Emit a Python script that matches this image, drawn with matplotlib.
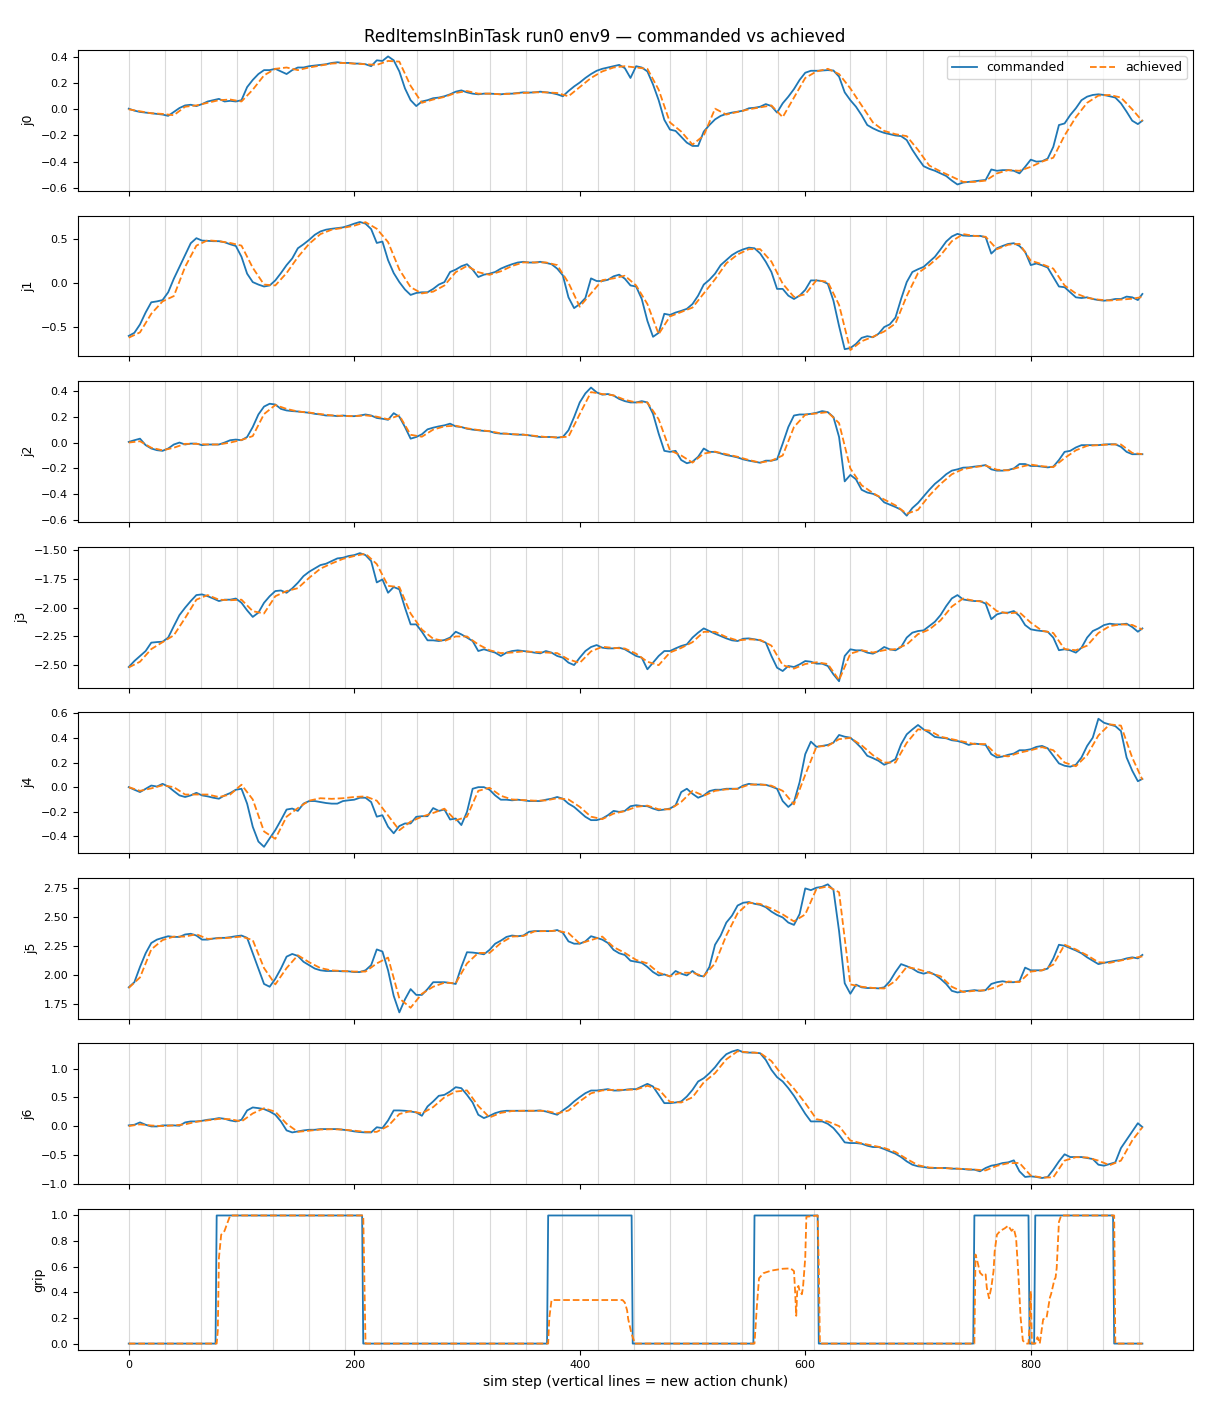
import numpy as np
import matplotlib
matplotlib.use("Agg")
import matplotlib.pyplot as plt
from matplotlib.ticker import MultipleLocator

# ---------------- data ----------------
# commanded joints sampled every 5 sim steps (0..895) plus final step 899
cmd_steps = list(range(0, 900, 5)) + [899]
# achieved joints sampled every 10 sim steps (0..890) plus final step 899
ach_steps = list(range(0, 900, 10)) + [899]

j0_cmd = [0.005, -0.01, -0.02, -0.025, -0.03, -0.035, -0.04, -0.05, -0.02, 0.01,
          0.03, 0.035, 0.025, 0.04, 0.06, 0.07, 0.08, 0.06, 0.065, 0.06,
          0.07, 0.17, 0.225, 0.27, 0.30, 0.30, 0.31, 0.29, 0.27, 0.30,
          0.32, 0.32, 0.33, 0.335, 0.34, 0.345, 0.355, 0.36, 0.355, 0.355,
          0.35, 0.35, 0.345, 0.33, 0.375, 0.37, 0.405, 0.375, 0.29, 0.16,
          0.07, 0.025, 0.06, 0.07, 0.085, 0.09, 0.10, 0.115, 0.135, 0.145,
          0.13, 0.12, 0.115, 0.12, 0.12, 0.118, 0.115, 0.12, 0.12, 0.125,
          0.13, 0.128, 0.13, 0.135, 0.13, 0.125, 0.115, 0.10, 0.14, 0.175,
          0.205, 0.24, 0.27, 0.295, 0.31, 0.32, 0.33, 0.34, 0.315, 0.24,
          0.33, 0.32, 0.29, 0.19, 0.07, -0.08, -0.155, -0.165, -0.21, -0.255,
          -0.28, -0.28, -0.17, -0.12, -0.077, -0.05, -0.035, -0.025, -0.018, -0.01,
          0.008, 0.012, 0.02, 0.04, 0.025, -0.025, 0.046, 0.097, 0.155, 0.225,
          0.28, 0.295, 0.295, 0.297, 0.30, 0.297, 0.25, 0.13, 0.07, 0.02,
          -0.045, -0.12, -0.145, -0.165, -0.18, -0.19, -0.20, -0.205, -0.235, -0.31,
          -0.375, -0.435, -0.455, -0.47, -0.49, -0.51, -0.545, -0.575, -0.56, -0.555,
          -0.55, -0.545, -0.54, -0.46, -0.47, -0.465, -0.465, -0.47, -0.49, -0.44,
          -0.385, -0.40, -0.397, -0.377, -0.287, -0.12, -0.108, -0.044, 0.008, 0.07,
          0.097, 0.11, 0.115, 0.11, 0.10, 0.09, 0.046, -0.018, -0.087, -0.113,
          -0.087]
j0_ach = [0.0, -0.015, -0.03, -0.035, -0.045, 0.02, 0.03, 0.05, 0.07, 0.075,
          0.06, 0.15, 0.26, 0.31, 0.32, 0.30, 0.32, 0.335, 0.35, 0.355,
          0.35, 0.345, 0.34, 0.37, 0.365, 0.18, 0.05, 0.075, 0.095, 0.125,
          0.14, 0.12, 0.12, 0.115, 0.12, 0.125, 0.13, 0.13, 0.125, 0.10,
          0.17, 0.24, 0.29, 0.32, 0.33, 0.32, 0.31, 0.15, -0.10, -0.17,
          -0.27, -0.2, 0.005, -0.04, -0.02, 0.0, 0.015, 0.03, -0.06, 0.09,
          0.24, 0.29, 0.31, 0.27, 0.16, 0.03, -0.1, -0.165, -0.19, -0.205,
          -0.31, -0.43, -0.475, -0.515, -0.555, -0.555, -0.545, -0.49, -0.465, -0.47,
          -0.44, -0.40, -0.37, -0.20, -0.06, 0.05, 0.105, 0.11, 0.09, 0.0,
          -0.09]

j1_cmd = [-0.60, -0.565, -0.47, -0.335, -0.22, -0.21, -0.195, -0.107, 0.046, 0.18,
          0.313, 0.447, 0.504, 0.477, 0.473, 0.47, 0.47, 0.458, 0.435, 0.416,
          0.294, 0.103, 0.008, -0.02, -0.042, -0.03, 0.027, 0.11, 0.2, 0.275,
          0.39, 0.435, 0.485, 0.542, 0.58, 0.6, 0.61, 0.618, 0.626, 0.645,
          0.668, 0.687, 0.668, 0.607, 0.45, 0.466, 0.256, 0.11, 0.008, -0.076,
          -0.137, -0.115, -0.107, -0.107, -0.069, -0.02, 0.008, 0.122, 0.149, 0.187,
          0.21, 0.149, 0.065, 0.092, 0.103, 0.122, 0.16, 0.187, 0.21, 0.229,
          0.237, 0.229, 0.229, 0.237, 0.225, 0.21, 0.16, 0.084, -0.164, -0.286,
          -0.24, -0.172, 0.05, 0.02, 0.02, 0.034, 0.073, 0.092, 0.046, -0.03,
          -0.042, -0.183, -0.43, -0.61, -0.565, -0.35, -0.363, -0.336, -0.317, -0.294,
          -0.24, -0.145, -0.02, 0.034, 0.103, 0.2, 0.256, 0.313, 0.351, 0.378,
          0.397, 0.39, 0.332, 0.237, 0.122, -0.069, -0.069, -0.145, -0.183, -0.145,
          -0.08, 0.027, 0.027, 0.019, -0.011, -0.202, -0.489, -0.75, -0.737, -0.69,
          -0.622, -0.603, -0.615, -0.576, -0.5, -0.469, -0.393, -0.183, 0.008, 0.122,
          0.153, 0.18, 0.237, 0.294, 0.378, 0.466, 0.523, 0.553, 0.534, 0.53,
          0.53, 0.53, 0.515, 0.33, 0.39, 0.416, 0.439, 0.447, 0.416, 0.351,
          0.2, 0.218, 0.198, 0.172, 0.065, -0.042, -0.05, -0.107, -0.164, -0.172,
          -0.164, -0.183, -0.195, -0.202, -0.195, -0.183, -0.183, -0.156, -0.164, -0.195,
          -0.126]
j1_ach = [-0.62, -0.56, -0.35, -0.21, -0.15, 0.18, 0.42, 0.48, 0.47, 0.45,
          0.42, 0.17, -0.02, -0.03, 0.11, 0.29, 0.44, 0.55, 0.6, 0.62,
          0.645, 0.685, 0.61, 0.46, 0.15, -0.05, -0.12, -0.1, -0.03, 0.12,
          0.19, 0.12, 0.09, 0.13, 0.19, 0.23, 0.23, 0.23, 0.2, 0.0,
          -0.27, -0.12, 0.03, 0.05, 0.08, -0.03, -0.24, -0.58, -0.38, -0.33,
          -0.28, -0.12, 0.04, 0.22, 0.32, 0.38, 0.38, 0.24, -0.01, -0.16,
          -0.13, 0.03, 0.01, -0.25, -0.76, -0.66, -0.61, -0.55, -0.46, -0.15,
          0.11, 0.2, 0.31, 0.47, 0.55, 0.53, 0.52, 0.38, 0.43, 0.44,
          0.25, 0.21, 0.16, -0.03, -0.12, -0.17, -0.19, -0.2, -0.19, -0.18,
          -0.16]

j2_cmd = [0.005, 0.018, 0.03, -0.02, -0.046, -0.059, -0.064, -0.046, -0.015, 0.0,
          -0.015, -0.008, -0.008, -0.02, -0.015, -0.015, -0.015, 0.0, 0.018, 0.023,
          0.018, 0.043, 0.12, 0.217, 0.278, 0.3, 0.294, 0.26, 0.248, 0.243,
          0.24, 0.235, 0.23, 0.222, 0.217, 0.209, 0.209, 0.204, 0.209, 0.204,
          0.204, 0.209, 0.217, 0.209, 0.19, 0.184, 0.176, 0.227, 0.2, 0.12,
          0.03, 0.043, 0.064, 0.102, 0.115, 0.125, 0.133, 0.146, 0.125, 0.12,
          0.107, 0.1, 0.095, 0.09, 0.087, 0.074, 0.069, 0.069, 0.064, 0.061,
          0.061, 0.056, 0.049, 0.043, 0.043, 0.043, 0.038, 0.043, 0.095, 0.197,
          0.31, 0.38, 0.425, 0.388, 0.37, 0.375, 0.363, 0.337, 0.32, 0.31,
          0.31, 0.32, 0.31, 0.222, 0.069, -0.064, -0.072, -0.064, -0.135, -0.16,
          -0.148, -0.11, -0.046, -0.072, -0.072, -0.084, -0.097, -0.105, -0.115, -0.13,
          -0.14, -0.148, -0.156, -0.14, -0.14, -0.13, -0.008, 0.12, 0.209, 0.217,
          0.217, 0.222, 0.23, 0.243, 0.235, 0.197, 0.043, -0.30, -0.25, -0.284,
          -0.365, -0.386, -0.396, -0.416, -0.462, -0.48, -0.498, -0.519, -0.565, -0.506,
          -0.467, -0.416, -0.365, -0.319, -0.284, -0.245, -0.217, -0.207, -0.194, -0.192,
          -0.186, -0.181, -0.174, -0.207, -0.217, -0.217, -0.212, -0.2, -0.166, -0.166,
          -0.181, -0.181, -0.186, -0.192, -0.186, -0.135, -0.072, -0.064, -0.038, -0.02,
          -0.02, -0.02, -0.02, -0.015, -0.013, -0.013, -0.033, -0.072, -0.09, -0.09,
          -0.09]
j2_ach = [0.0, 0.01, -0.04, -0.06, -0.04, -0.01, -0.01, -0.015, -0.015, 0.0,
          0.02, 0.05, 0.22, 0.29, 0.26, 0.24, 0.232, 0.22, 0.21, 0.206,
          0.204, 0.21, 0.2, 0.18, 0.21, 0.06, 0.045, 0.1, 0.125, 0.13,
          0.11, 0.097, 0.088, 0.071, 0.065, 0.061, 0.052, 0.043, 0.04, 0.045,
          0.22, 0.39, 0.375, 0.365, 0.33, 0.31, 0.31, 0.18, -0.06, -0.1,
          -0.155, -0.085, -0.07, -0.09, -0.11, -0.135, -0.155, -0.14, -0.1, 0.12,
          0.215, 0.225, 0.235, 0.15, -0.2, -0.33, -0.39, -0.44, -0.485, -0.55,
          -0.52, -0.41, -0.32, -0.245, -0.205, -0.19, -0.178, -0.21, -0.215, -0.19,
          -0.17, -0.183, -0.19, -0.12, -0.06, -0.025, -0.02, -0.015, -0.015, -0.08,
          -0.09]

j3_cmd = [-2.516, -2.464, -2.42, -2.377, -2.304, -2.299, -2.296, -2.26, -2.16, -2.064,
          -2.0, -1.942, -1.89, -1.884, -1.9, -1.92, -1.942, -1.93, -1.93, -1.92,
          -1.957, -2.023, -2.08, -2.043, -1.957, -1.9, -1.855, -1.85, -1.87, -1.832,
          -1.783, -1.725, -1.687, -1.658, -1.629, -1.617, -1.594, -1.571, -1.565, -1.55,
          -1.542, -1.525, -1.542, -1.594, -1.78, -1.754, -1.87, -1.82, -1.84, -2.0,
          -2.145, -2.145, -2.209, -2.284, -2.284, -2.29, -2.281, -2.26, -2.209, -2.232,
          -2.26, -2.29, -2.377, -2.362, -2.377, -2.391, -2.42, -2.391, -2.377, -2.371,
          -2.377, -2.383, -2.391, -2.397, -2.377, -2.391, -2.42, -2.435, -2.478, -2.499,
          -2.435, -2.377, -2.342, -2.325, -2.348, -2.354, -2.354, -2.348, -2.362, -2.391,
          -2.42, -2.435, -2.536, -2.478, -2.42, -2.377, -2.377, -2.354, -2.333, -2.319,
          -2.26, -2.217, -2.18, -2.203, -2.226, -2.246, -2.267, -2.284, -2.29, -2.27,
          -2.267, -2.275, -2.284, -2.304, -2.42, -2.522, -2.551, -2.507, -2.516, -2.493,
          -2.464, -2.47, -2.487, -2.487, -2.507, -2.58, -2.64, -2.42, -2.362, -2.371,
          -2.371, -2.391, -2.4, -2.377, -2.342, -2.362, -2.371, -2.342, -2.26, -2.217,
          -2.203, -2.197, -2.159, -2.122, -2.064, -1.986, -1.919, -1.89, -1.928, -1.936,
          -1.942, -1.942, -1.965, -2.10, -2.058, -2.043, -2.043, -2.029, -2.072, -2.151,
          -2.188, -2.197, -2.203, -2.209, -2.26, -2.37, -2.362, -2.371, -2.391, -2.348,
          -2.26, -2.203, -2.18, -2.151, -2.139, -2.145, -2.145, -2.139, -2.168, -2.209,
          -2.18]
j3_ach = [-2.52, -2.47, -2.36, -2.3, -2.24, -2.09, -1.93, -1.89, -1.93, -1.935,
          -1.93, -2.03, -2.05, -1.9, -1.855, -1.83, -1.74, -1.66, -1.615, -1.575,
          -1.55, -1.53, -1.62, -1.81, -1.82, -2.05, -2.19, -2.27, -2.29, -2.25,
          -2.25, -2.32, -2.37, -2.395, -2.39, -2.38, -2.385, -2.39, -2.395, -2.45,
          -2.48, -2.38, -2.34, -2.35, -2.355, -2.4, -2.47, -2.5, -2.39, -2.35,
          -2.3, -2.21, -2.21, -2.255, -2.285, -2.275, -2.28, -2.33, -2.5, -2.53,
          -2.49, -2.475, -2.49, -2.63, -2.4, -2.37, -2.39, -2.37, -2.36, -2.32,
          -2.23, -2.19, -2.11, -1.99, -1.92, -1.94, -1.95, -2.03, -2.05, -2.04,
          -2.13, -2.2, -2.22, -2.36, -2.37, -2.33, -2.22, -2.16, -2.145, -2.15,
          -2.19]

j4_cmd = [0.0, -0.021, -0.04, -0.013, 0.013, 0.005, 0.027, 0.005, -0.032, -0.067,
          -0.08, -0.067, -0.046, -0.067, -0.075, -0.086, -0.094, -0.067, -0.048, -0.021,
          -0.013, -0.134, -0.322, -0.442, -0.485, -0.416, -0.349, -0.268, -0.182, -0.174,
          -0.193, -0.134, -0.113, -0.113, -0.121, -0.129, -0.134, -0.134, -0.113, -0.107,
          -0.102, -0.086, -0.086, -0.121, -0.24, -0.228, -0.322, -0.375, -0.316, -0.295,
          -0.295, -0.241, -0.236, -0.236, -0.17, -0.193, -0.182, -0.263, -0.255, -0.308,
          -0.201, -0.013, 0.0, 0.0, -0.021, -0.067, -0.102, -0.102, -0.107, -0.102,
          -0.107, -0.113, -0.113, -0.113, -0.102, -0.094, -0.08, -0.094, -0.134, -0.161,
          -0.201, -0.241, -0.268, -0.268, -0.255, -0.228, -0.193, -0.201, -0.193, -0.155,
          -0.147, -0.153, -0.155, -0.174, -0.188, -0.182, -0.174, -0.147, -0.04, -0.013,
          -0.054, -0.086, -0.067, -0.032, -0.021, -0.021, -0.013, -0.013, -0.013, 0.013,
          0.027, 0.021, 0.021, 0.019, 0.005, -0.013, -0.113, -0.161, -0.121, 0.04,
          0.268, 0.37, 0.327, 0.335, 0.343, 0.362, 0.424, 0.41, 0.402, 0.362,
          0.316, 0.255, 0.236, 0.214, 0.182, 0.201, 0.228, 0.349, 0.429, 0.469,
          0.505, 0.469, 0.442, 0.408, 0.402, 0.397, 0.381, 0.375, 0.362, 0.343,
          0.354, 0.349, 0.343, 0.268, 0.241, 0.249, 0.263, 0.273, 0.3, 0.3,
          0.308, 0.327, 0.335, 0.316, 0.255, 0.193, 0.174, 0.166, 0.182, 0.241,
          0.335, 0.402, 0.556, 0.523, 0.509, 0.496, 0.456, 0.241, 0.134, 0.048,
          0.067]
j4_ach = [0.0, -0.03, -0.01, 0.015, 0.0, -0.06, -0.06, -0.06, -0.08, -0.06,
          0.02, -0.1, -0.36, -0.42, -0.24, -0.17, -0.11, -0.09, -0.095, -0.09,
          -0.08, -0.075, -0.11, -0.23, -0.35, -0.28, -0.24, -0.21, -0.175, -0.27,
          -0.24, -0.03, -0.005, -0.07, -0.1, -0.105, -0.11, -0.108, -0.09, -0.1,
          -0.16, -0.24, -0.26, -0.215, -0.195, -0.16, -0.15, -0.18, -0.18, -0.12,
          -0.03, -0.07, -0.03, -0.018, -0.013, 0.02, 0.022, 0.012, -0.03, -0.14,
          0.1, 0.33, 0.335, 0.39, 0.4, 0.34, 0.26, 0.2, 0.2, 0.36,
          0.47, 0.46, 0.41, 0.39, 0.37, 0.35, 0.35, 0.26, 0.25, 0.28,
          0.3, 0.325, 0.3, 0.2, 0.17, 0.26, 0.42, 0.51, 0.5, 0.24,
          0.06]

j5_cmd = [1.895, 1.939, 2.07, 2.187, 2.275, 2.304, 2.319, 2.333, 2.327, 2.327,
          2.348, 2.354, 2.339, 2.304, 2.304, 2.313, 2.319, 2.319, 2.325, 2.333,
          2.339, 2.319, 2.187, 2.056, 1.924, 1.90, 1.968, 2.056, 2.158, 2.181,
          2.164, 2.114, 2.085, 2.056, 2.041, 2.035, 2.035, 2.035, 2.032, 2.032,
          2.026, 2.026, 2.041, 2.085, 2.22, 2.202, 2.041, 1.822, 1.68, 1.792,
          1.88, 1.83, 1.83, 1.88, 1.939, 1.939, 1.939, 1.933, 1.924, 2.07,
          2.196, 2.193, 2.187, 2.178, 2.216, 2.269, 2.295, 2.327, 2.339, 2.333,
          2.339, 2.371, 2.377, 2.377, 2.377, 2.377, 2.386, 2.363, 2.289, 2.269,
          2.269, 2.289, 2.333, 2.319, 2.304, 2.275, 2.216, 2.187, 2.172, 2.123,
          2.114, 2.105, 2.07, 2.026, 1.997, 2.006, 1.988, 2.035, 2.012, 1.997,
          2.035, 1.997, 1.988, 2.07, 2.26, 2.339, 2.45, 2.509, 2.596, 2.62,
          2.626, 2.611, 2.602, 2.582, 2.544, 2.515, 2.494, 2.45, 2.43, 2.523,
          2.743, 2.728, 2.749, 2.757, 2.778, 2.73, 2.377, 1.93, 1.84, 1.918,
          1.895, 1.889, 1.889, 1.886, 1.895, 1.947, 2.026, 2.094, 2.076, 2.056,
          2.026, 2.012, 2.026, 2.003, 1.968, 1.924, 1.865, 1.851, 1.86, 1.865,
          1.871, 1.865, 1.871, 1.924, 1.939, 1.947, 1.939, 1.939, 1.947, 2.064,
          2.041, 2.041, 2.041, 2.056, 2.143, 2.26, 2.251, 2.231, 2.211, 2.187,
          2.152, 2.123, 2.094, 2.105, 2.114, 2.123, 2.129, 2.143, 2.152, 2.143,
          2.173]
j5_ach = [1.89, 1.98, 2.22, 2.3, 2.33, 2.33, 2.35, 2.31, 2.315, 2.32,
          2.33, 2.3, 2.06, 1.92, 2.06, 2.17, 2.11, 2.06, 2.04, 2.035,
          2.03, 2.03, 2.1, 2.15, 1.8, 1.72, 1.84, 1.9, 1.935, 1.93,
          2.1, 2.19, 2.19, 2.275, 2.33, 2.335, 2.375, 2.377, 2.38, 2.36,
          2.27, 2.3, 2.33, 2.24, 2.19, 2.13, 2.1, 2.02, 1.99, 2.02,
          2.02, 1.99, 2.1, 2.34, 2.53, 2.62, 2.61, 2.57, 2.52, 2.46,
          2.52, 2.74, 2.76, 2.71, 1.92, 1.9, 1.89, 1.885, 1.95, 2.07,
          2.05, 2.02, 1.99, 1.9, 1.855, 1.865, 1.87, 1.9, 1.945, 1.94,
          2.03, 2.04, 2.09, 2.26, 2.22, 2.17, 2.11, 2.105, 2.125, 2.145,
          2.16]

j6_cmd = [0.012, 0.023, 0.064, 0.023, -0.006, -0.006, 0.012, 0.012, 0.012, 0.006,
          0.064, 0.081, 0.081, 0.092, 0.11, 0.121, 0.139, 0.127, 0.098, 0.081,
          0.11, 0.272, 0.324, 0.312, 0.295, 0.254, 0.197, 0.081, -0.075, -0.11,
          -0.092, -0.075, -0.064, -0.064, -0.052, -0.052, -0.052, -0.052, -0.064, -0.075,
          -0.092, -0.104, -0.11, -0.11, -0.02, -0.035, 0.098, 0.272, 0.272, 0.266,
          0.254, 0.237, 0.179, 0.341, 0.428, 0.526, 0.543, 0.601, 0.676, 0.659,
          0.543, 0.41, 0.197, 0.139, 0.179, 0.225, 0.254, 0.266, 0.266, 0.266,
          0.266, 0.266, 0.266, 0.272, 0.254, 0.225, 0.197, 0.272, 0.341, 0.428,
          0.503, 0.572, 0.618, 0.618, 0.63, 0.642, 0.618, 0.618, 0.63, 0.642,
          0.642, 0.688, 0.734, 0.688, 0.543, 0.399, 0.399, 0.41, 0.428, 0.514,
          0.63, 0.775, 0.832, 0.919, 1.023, 1.15, 1.249, 1.295, 1.324, 1.283,
          1.277, 1.277, 1.266, 1.15, 0.977, 0.85, 0.775, 0.659, 0.526, 0.37,
          0.214, 0.081, 0.081, 0.081, 0.04, -0.035, -0.15, -0.283, -0.295, -0.295,
          -0.306, -0.341, -0.364, -0.364, -0.399, -0.439, -0.48, -0.538, -0.613, -0.671,
          -0.699, -0.711, -0.728, -0.728, -0.728, -0.728, -0.74, -0.74, -0.746, -0.757,
          -0.757, -0.786, -0.728, -0.688, -0.671, -0.642, -0.63, -0.595, -0.786, -0.884,
          -0.873, -0.884, -0.902, -0.884, -0.757, -0.613, -0.49, -0.538, -0.538, -0.538,
          -0.555, -0.572, -0.671, -0.688, -0.659, -0.63, -0.382, -0.237, -0.092, 0.05,
          -0.017]
j6_ach = [0.0, 0.03, 0.01, 0.0, 0.012, 0.03, 0.075, 0.1, 0.125, 0.12,
          0.08, 0.22, 0.31, 0.25, 0.04, -0.1, -0.08, -0.06, -0.055, -0.06,
          -0.08, -0.1, -0.1, 0.0, 0.21, 0.26, 0.22, 0.33, 0.5, 0.6,
          0.62, 0.35, 0.15, 0.23, 0.262, 0.266, 0.266, 0.265, 0.22, 0.27,
          0.43, 0.57, 0.62, 0.63, 0.63, 0.635, 0.7, 0.64, 0.42, 0.41,
          0.5, 0.76, 0.92, 1.16, 1.3, 1.28, 1.27, 1.13, 0.87, 0.65,
          0.4, 0.12, 0.08, 0.0, -0.25, -0.3, -0.34, -0.38, -0.45, -0.57,
          -0.68, -0.72, -0.73, -0.735, -0.745, -0.755, -0.77, -0.69, -0.645, -0.64,
          -0.86, -0.895, -0.89, -0.6, -0.54, -0.545, -0.6, -0.68, -0.6, -0.25,
          -0.02]

# gripper: commanded closed intervals (inclusive sim steps)
grip_on_start = [78, 372, 555, 750, 804]
grip_on_end = [207, 446, 611, 798, 873]
n_steps = 900

# gripper achieved (sim step, value)
grip_ach_x = [0, 78, 79, 80, 82, 85, 87, 90, 207, 208, 210, 372, 373, 375, 438, 440,
              442, 443, 446, 449, 555, 557, 559, 563, 570, 580, 587, 590, 591, 592,
              593, 594, 595, 597, 598, 600, 601, 611, 612, 613, 750, 751, 753, 755,
              758, 760, 761, 763, 765, 767, 768, 770, 773, 777, 780, 783, 785, 787,
              789, 791, 793, 796, 798, 799, 800, 801, 804, 806, 808, 810, 811, 814,
              817, 818, 821, 822, 823, 825, 827, 874, 875, 899]
grip_ach_y = [0.0, 0.0, 0.1, 0.67, 0.85, 0.88, 0.93, 1.0, 1.0, 1.0, 0.0, 0.0, 0.2, 0.34, 0.34, 0.32,
              0.26, 0.19, 0.075, 0.0, 0.0, 0.28, 0.51, 0.55, 0.57, 0.584, 0.587, 0.566, 0.41, 0.217,
              0.437, 0.45, 0.41, 0.385, 0.437, 0.67, 0.99, 1.0, 0.6, 0.0, 0.0, 0.695, 0.63, 0.553,
              0.527, 0.54, 0.437, 0.354, 0.437, 0.566, 0.72, 0.85, 0.88, 0.9, 0.92, 0.88, 0.897, 0.824,
              0.54, 0.204, 0.023, 0.0, 0.0, 0.15, 0.41, 0.0, 0.0, 0.05, 0.0, 0.127, 0.19, 0.2,
              0.36, 0.385, 0.5, 0.514, 0.59, 0.95, 1.0, 1.0, 0.0, 0.0]

chunk_len = 32
joint_names = ["j0", "j1", "j2", "j3", "j4", "j5", "j6", "grip"]
title = "RedItemsInBinTask run0 env9 \u2014 commanded vs achieved"

# ---------------- plot ----------------
plt.rcParams['font.family'] = ['DejaVu Sans']
fig, axes = plt.subplots(8, 1, figsize=(12.1, 14.08), dpi=100, sharex=True)
fig.subplots_adjust(left=0.0645, right=0.986, top=0.9645, bottom=0.0412, hspace=0.175)

blue = '#1f77b4'
orange = '#ff7f0e'
cmd_list = [j0_cmd, j1_cmd, j2_cmd, j3_cmd, j4_cmd, j5_cmd, j6_cmd]
ach_list = [j0_ach, j1_ach, j2_ach, j3_ach, j4_ach, j5_ach, j6_ach]

steps_all = np.arange(n_steps)
grip_cmd = np.zeros(n_steps)
for s0, s1 in zip(grip_on_start, grip_on_end):
    grip_cmd[(steps_all >= s0) & (steps_all <= s1)] = 1.0

chunk_starts = list(range(0, n_steps, chunk_len))

for i, ax in enumerate(axes):
    for c in chunk_starts:
        ax.axvline(c, color='#d9d9d9', lw=0.8, zorder=0)
    if i < 7:
        ax.plot(cmd_steps, cmd_list[i], color=blue, lw=1.3, label='commanded')
        ax.plot(ach_steps, ach_list[i], color=orange, lw=1.3, ls='--', label='achieved')
    else:
        ax.plot(steps_all, grip_cmd, color=blue, lw=1.3, label='commanded')
        ax.plot(grip_ach_x, grip_ach_y, color=orange, lw=1.3, ls='--', label='achieved')
    ax.set_ylabel(joint_names[i], fontsize=9)
    ax.tick_params(labelsize=8)
    if i == 0:
        ax.legend(loc='upper right', ncol=2, fontsize=9)

axes[3].yaxis.set_major_locator(MultipleLocator(0.25))
axes[-1].set_xlabel("sim step (vertical lines = new action chunk)", fontsize=10)
fig.suptitle(title, fontsize=12, y=0.980)

fig.savefig("out.png", dpi=100)
